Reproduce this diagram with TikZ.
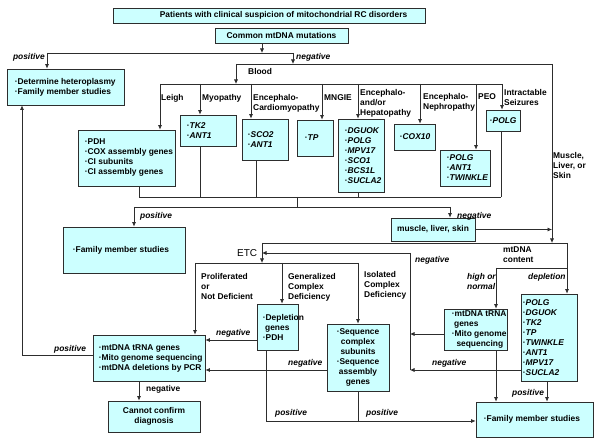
\documentclass[tikz,border=0pt]{standalone}
\usepackage{fontspec}
\setmainfont{Liberation Sans}
\usetikzlibrary{arrows.meta,fit}
\definecolor{boxfill}{RGB}{204,255,255}
\definecolor{ln}{RGB}{45,45,45}
\newcommand\bl{·}
\newcommand\gi[1]{\textit{#1}}
\newcommand\lbox[7][7]{\node[bx,fit={(#3,#4) (#5,#6)}] (#2) {};\node[txt,anchor=west] (#2-t) at ([xshift=#1pt]#2.west) {#7};}
\newcommand\cbox[6]{\node[bx,fit={(#2,#3) (#4,#5)}] (#1) {};\node[txt,align=center] (#1-t) at (#1.center) {#6};}
\begin{document}
\begin{tikzpicture}[x=1pt,y=-1pt,
  bx/.style={draw=ln,fill=boxfill,line width=0.7pt,inner sep=0pt},
  txt/.style={inner sep=0pt,font=\bfseries\fontsize{8.4}{10}\selectfont,align=left},
  lab/.style={inner sep=0pt,font=\bfseries\fontsize{8.4}{10}\selectfont,align=left,anchor=west},
  itl/.style={lab,font=\bfseries\itshape\fontsize{8.4}{10}\selectfont},
  con/.style={draw=ln,line width=0.7pt},
  arr/.style={con,-{Latex[length=4.5pt,width=4pt]}}]
\useasboundingbox (0,0) rectangle (600,443);
\fill[white] (0,0) rectangle (600,443);
% boxes
\lbox[47]{top}{113}{8}{425}{23}{Patients with clinical suspicion of mitochondrial RC disorders}
\cbox{common}{215}{28}{348}{43}{Common mtDNA mutations}
\lbox[8]{det}{7}{69}{124}{105}{\bl Determine heteroplasmy\\\bl Family member studies}
\lbox{pdh}{78}{130}{175}{186}{\bl PDH\\\bl COX assembly genes\\\bl CI subunits\\\bl CI assembly genes}
\lbox{tk}{180}{115}{236}{146}{\bl\gi{TK2}\\\bl\gi{ANT1}}
\lbox[6]{sco}{242}{119}{288}{160}{\bl\gi{SCO2}\\\bl\gi{ANT1}}
\lbox[8]{tp}{297}{120}{333}{156}{\bl\gi{TP}}
\lbox{dg}{338}{119}{384}{192}{\bl\gi{DGUOK}\\\bl\gi{POLG}\\\bl\gi{MPV17}\\\bl\gi{SCO1}\\\bl\gi{BCS1L}\\\bl\gi{SUCLA2}}
\lbox[6]{cox}{394}{124}{435}{150}{\bl\gi{COX10}}
\lbox{peo}{440}{150}{490}{186}{\bl\gi{POLG}\\\bl\gi{ANT1}\\\bl\gi{TWINKLE}}
\lbox[4]{sz}{486}{110}{520}{131}{\bl\gi{POLG}}
\lbox[10]{famA}{63}{227}{185}{273}{\bl Family member studies}
\cbox{mls}{391}{218}{475}{241}{muscle, liver, skin}
\lbox[6]{trL}{93}{335}{205}{381}{\bl mtDNA tRNA genes\\\bl Mito genome sequencing\\\bl mtDNA deletions by PCR}
\cbox{cannot}{108}{401}{200}{432}{Cannot confirm\\diagnosis}
\lbox[6]{depg}{257}{304}{298}{350}{\bl Depletion\\\ genes\\\bl PDH}
\cbox{seq}{327}{324}{389}{391}{\bl Sequence\\complex\\subunits\\\bl Sequence\\assembly\\genes}
\lbox[8]{trR}{444}{309}{507}{350}{\bl mtDNA tRNA\\\ genes\\\bl Mito genome\\\ \ sequencing}
\lbox[2]{depl}{521}{294}{577}{381}{\bl\gi{POLG}\\\bl\gi{DGUOK}\\\bl\gi{TK2}\\\bl\gi{TP}\\\bl\gi{TWINKLE}\\\bl\gi{ANT1}\\\bl\gi{MPV17}\\\bl\gi{SUCLA2}}
\lbox[8]{famB}{476}{402}{593}{437}{\bl Family member studies}
% coordinates
\coordinate (j1) at (262,53); \coordinate (jL) at (47,53); \coordinate (jR) at (293,53);
\coordinate (f1) at (236,64); \coordinate (f2) at (552,64); \coordinate (f3) at (293,64);
\coordinate (bL) at (160,84); \coordinate (bR) at (502,84);
\coordinate (d2) at (200,84); \coordinate (d3) at (251,84); \coordinate (d4) at (322,84);
\coordinate (d5) at (358,84); \coordinate (d6) at (420,84); \coordinate (d7) at (476,84);
\coordinate (c1) at (139,197); \coordinate (c2) at (200,197); \coordinate (c3) at (256,197);
\coordinate (c4) at (358,197); \coordinate (c5) at (501,197); \coordinate (c6) at (297,197);
\coordinate (e0) at (297,207); \coordinate (eL) at (134,207); \coordinate (eR) at (450,207);
\coordinate (m1) at (552,243); \coordinate (gL) at (262,243); \coordinate (gR) at (567,243);
\coordinate (hC) at (262,263); \coordinate (hL) at (195,263); \coordinate (hG) at (282,263); \coordinate (hR) at (358,263);
\coordinate (n1) at (410,253); \coordinate (n2) at (410,370); \coordinate (r1) at (410,334);
\coordinate (k1) at (496,268); \coordinate (k2) at (567,268);
\coordinate (p1) at (547,381);
\coordinate (q1) at (205,340); \coordinate (q2) at (205,370);
\coordinate (s1) at (266,421); \coordinate (s2) at (358,421);
\coordinate (l1) at (22,355); \coordinate (o1) at (139,381);
% connectors
\draw[arr] (common.south -| j1) -- (j1);
\draw[con] (jL) -- (jR);
\draw[arr] (jL) -- (jL |- det.north);
\draw[arr] (jR) -- (f3);
\draw[con] (f1) -- (f2);
\draw[arr] (f1) -- (f1 |- bL);
\draw[con] (bL) -- (bR);
\draw[arr] (bL) -- (bL |- pdh.north);
\draw[arr] (d2) -- (d2 |- tk.north);
\draw[arr] (d3) -- (d3 |- sco.north);
\draw[arr] (d4) -- (d4 |- tp.north);
\draw[arr] (d5) -- (d5 |- dg.north);
\draw[arr] (d6) -- (d6 |- cox.north);
\draw[arr] (d7) -- (d7 |- peo.north);
\draw[arr] (bR) -- (bR |- sz.north);
\draw[con] (c1 |- pdh.south) -- (c1);
\draw[con] (c2 |- tk.south) -- (c2);
\draw[con] (c3 |- sco.south) -- (c3);
\draw[con] (c4 |- dg.south) -- (c4);
\draw[con] (c5 |- sz.south) -- (c5);
\draw[con] (c1) -- (c5);
\draw[con] (c6) -- (e0);
\draw[con] (eL) -- (eR);
\draw[arr] (eL) -- (eL |- famA.north);
\draw[arr] (eR) -- (eR |- mls.north);
\draw[arr] (f2) -- (m1);
\draw[arr] (mls.east) -- (mls.east -| f2);
\draw[con] (gL) -- (gR);
\draw[arr] (gL) -- (hC);
\draw[arr] (gR) -- (gR |- depl.north);
\draw[con] (hL) -- (hR);
\draw[arr] (hL) -- (hL |- trL.north);
\draw[arr] (hG) -- (hG |- depg.north);
\draw[arr] (hR) -- (hR |- seq.north);
\draw[con] (n1) -- (n2);
\draw[arr] (n1) -- (gL |- n1);
\draw[arr] (r1 -| trR.west) -- (r1);
\draw[arr] (n2 -| depl.west) -- (n2);
\draw[con] (k1) -- (k2);
\draw[arr] (k1) -- (k1 |- trR.north);
\draw[arr] (k1 |- trR.south) -- (k1 |- famB.north);
\draw[arr] (p1 |- depl.south) -- (p1 |- famB.north);
\draw[arr] (q1 -| depg.west) -- (q1 -| trL.east);
\draw[arr] (q2 -| seq.west) -- (q2 -| trL.east);
\draw[con] (s1 |- depg.south) -- (s1);
\draw[arr] (s1) -- (s1 -| famB.west);
\draw[con] (s2 |- seq.south) -- (s2);
\draw[arr] (l1 -| trL.west) -- (l1) -- (l1 |- det.south);
\draw[arr] (o1 |- trL.south) -- (o1 |- cannot.north);
% labels
\node[itl,anchor=east] (t1) at (45,57) {positive};
\node[itl] (t2) at (296,57) {negative};
\node[lab] (t3) at (248,72) {Blood};
\node[lab] (t4) at (161,98) {Leigh};
\node[lab] (t5) at (202,98) {Myopathy};
\node[lab,anchor=north west] (t6) at (253,94) {Encephalo-\\Cardiomyopathy};
\node[lab] (t7) at (324,98) {MNGIE};
\node[lab,anchor=north west] (t8) at (360,89) {Encephalo-\\and/or\\Hepatopathy};
\node[lab,anchor=north west] (t9) at (423,93) {Encephalo-\\Nephropathy};
\node[lab] (t10) at (478,97) {PEO};
\node[lab,anchor=north west] (t11) at (504,89) {Intractable\\Seizures};
\node[lab,anchor=north west] (t12) at (553,152) {Muscle,\\Liver, or\\Skin};
\node[itl] (t13) at (140,216) {positive};
\node[itl] (t14) at (457,216) {negative};
\node[lab,font=\fontsize{10}{12}\selectfont] (t15) at (237,253) {ETC};
\node[itl] (t16) at (415,260) {negative};
\node[lab,anchor=north west] (t17) at (503,247) {mtDNA\\content};
\node[itl,anchor=north west] (t18) at (467,273) {high or\\normal};
\node[itl] (t19) at (528,277) {depletion};
\node[lab,anchor=north west] (t20) at (201,273) {Proliferated\\or\\Not Deficient};
\node[lab,anchor=north west] (t21) at (288,273) {Generalized\\Complex\\Deficiency};
\node[lab,anchor=north west] (t22) at (364,271) {Isolated\\Complex\\Deficiency};
\node[itl] (t23) at (216,333) {negative};
\node[itl] (t24) at (54,349) {positive};
\node[lab] (t25) at (146,389) {negative};
\node[itl] (t26) at (288,363) {negative};
\node[itl] (t27) at (432,363) {negative};
\node[itl] (t28) at (275,413) {positive};
\node[itl] (t29) at (366,413) {positive};
\node[itl] (t30) at (512,393) {positive};
\end{tikzpicture}
\end{document}
